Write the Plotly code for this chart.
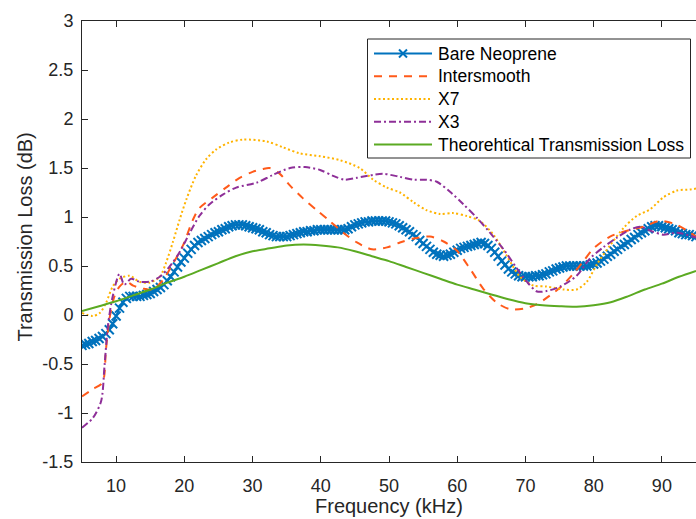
import numpy as np
import plotly.graph_objects as go

# Bare Neoprene: measured transmission loss on a 0.5 kHz grid (5-95 kHz)
bare_freq = np.arange(5.0, 95.01, 0.5)
bare_tl = [
    -0.31, -0.30, -0.29, -0.27, -0.26, -0.24, -0.22, -0.19, -0.15, -0.09,
    -0.01, 0.07, 0.13, 0.17, 0.19, 0.19, 0.19, 0.19, 0.20, 0.21,
    0.22, 0.24, 0.26, 0.28, 0.31, 0.35, 0.39, 0.44, 0.49, 0.54,
    0.58, 0.63, 0.67, 0.71, 0.74, 0.76, 0.78, 0.80, 0.82, 0.84,
    0.85, 0.87, 0.88, 0.90, 0.91, 0.92, 0.92, 0.92, 0.91, 0.90,
    0.89, 0.88, 0.87, 0.85, 0.84, 0.82, 0.81, 0.80, 0.80, 0.80,
    0.80, 0.81, 0.82, 0.83, 0.84, 0.85, 0.85, 0.86, 0.86, 0.87,
    0.87, 0.87, 0.87, 0.87, 0.87, 0.87, 0.87, 0.87, 0.88, 0.90,
    0.92, 0.93, 0.94, 0.95, 0.95, 0.96, 0.96, 0.96, 0.96, 0.96,
    0.95, 0.94, 0.93, 0.91, 0.89, 0.87, 0.85, 0.82, 0.80, 0.76,
    0.73, 0.70, 0.67, 0.64, 0.62, 0.61, 0.60, 0.61, 0.62, 0.64,
    0.66, 0.68, 0.69, 0.70, 0.71, 0.72, 0.73, 0.74, 0.73, 0.71,
    0.68, 0.64, 0.60, 0.55, 0.51, 0.47, 0.44, 0.42, 0.40, 0.39,
    0.39, 0.39, 0.39, 0.40, 0.40, 0.41, 0.42, 0.44, 0.45, 0.47,
    0.48, 0.49, 0.50, 0.50, 0.50, 0.50, 0.50, 0.50, 0.50, 0.51,
    0.52, 0.53, 0.55, 0.57, 0.60, 0.62, 0.65, 0.67, 0.70, 0.72,
    0.74, 0.77, 0.79, 0.82, 0.84, 0.86, 0.88, 0.90, 0.91, 0.91,
    0.90, 0.89, 0.88, 0.87, 0.86, 0.84, 0.83, 0.82, 0.82, 0.81,
    0.80,
]

# Intersmooth coating
inter_freq = [5, 6.5, 8.0, 8.5, 9.0, 9.75, 10.5, 11.5, 12.5, 13.9, 15.4, 16.9,
              18.3, 19.8, 21.25, 22.2, 24.2, 26.1, 28.1, 30, 31.5, 32.5, 34,
              35.5, 37.4, 39.4, 41.3, 43.3, 45.3, 47.5, 49.7, 51.6, 53.6, 56,
              58, 59.9, 61.9, 63.8, 65.8, 67.7, 69.7, 71.7, 73.6, 75.1, 77,
              78.5, 80, 82.4, 84.9, 87.3, 89.7, 92.2, 95]
inter_tl = [-0.83, -0.76, -0.69, -0.36, -0.05, 0.19, 0.29, 0.34, 0.30, 0.27,
            0.26, 0.36, 0.52, 0.71, 0.97, 1.09, 1.20, 1.30, 1.40, 1.46, 1.49,
            1.50, 1.44, 1.32, 1.19, 1.07, 0.96, 0.84, 0.74, 0.67, 0.69, 0.74,
            0.78, 0.80, 0.75, 0.66, 0.47, 0.27, 0.125, 0.06, 0.065, 0.11,
            0.20, 0.28, 0.42, 0.55, 0.68, 0.80, 0.86, 0.90, 0.96, 0.92, 0.80]

# X7 coating
x7_freq = [5, 6.6, 7.6, 8.5, 9.5, 10.5, 12.0, 13.4, 14.9, 16.4, 17.3, 18.3,
           19.3, 20.3, 21.7, 23.2, 24.7, 26.6, 28.6, 32.1, 34.5, 36.9, 39.9,
           42.8, 45.7, 47.7, 49.7, 51.6, 53.6, 55.5, 57.5, 59.4, 61.4, 63.3,
           65.3, 67.3, 69.2, 71.2, 73.1, 75.6, 77.5, 79.0, 80.5, 82.4, 84.4,
           86.3, 88.3, 90.2, 92.2, 94.1, 95]
x7_tl = [0.02, -0.01, 0.02, 0.12, 0.29, 0.37, 0.40, 0.34, 0.33, 0.39, 0.53,
         0.74, 0.97, 1.18, 1.42, 1.59, 1.69, 1.76, 1.79, 1.77, 1.71, 1.65,
         1.62, 1.58, 1.50, 1.38, 1.30, 1.25, 1.15, 1.07, 1.03, 1.04, 1.01,
         0.96, 0.82, 0.60, 0.39, 0.30, 0.29, 0.26, 0.26, 0.34, 0.52, 0.71,
         0.89, 1.01, 1.08, 1.20, 1.27, 1.28, 1.29]

# X3 coating
x3_freq = [5, 6.6, 7.8, 8.3, 8.8, 9.5, 10.5, 11.2, 12.2, 13.4, 14.9, 16.4,
           17.8, 19.3, 20.8, 22.2, 23.7, 25.7, 27.6, 30.6, 33.0, 35.5, 37.7,
           39.9, 41.8, 43.5, 45.3, 47.7, 49.2, 51.6, 53.6, 55.5, 57.0, 58.9,
           60.9, 62.9, 64.8, 66.8, 68.7, 70.2, 71.7, 73.1, 75.1, 77.5, 79.5,
           81.4, 83.4, 85.3, 86.8, 88.7, 90.2, 92.2, 95]
x3_tl = [-1.15, -1.05, -0.88, -0.52, -0.11, 0.19, 0.42, 0.31, 0.37, 0.34,
         0.34, 0.39, 0.49, 0.64, 0.84, 1.01, 1.13, 1.23, 1.30, 1.35, 1.43,
         1.50, 1.51, 1.48, 1.42, 1.38, 1.40, 1.43, 1.44, 1.41, 1.38, 1.38,
         1.36, 1.26, 1.13, 0.99, 0.84, 0.67, 0.48, 0.34, 0.24, 0.245, 0.29,
         0.40, 0.58, 0.69, 0.79, 0.87, 0.90, 0.85, 0.82, 0.84, 0.79]

# Theoretical transmission loss
theory_freq = [5, 7.5, 10, 12.5, 15, 17.5, 20, 22.5, 25, 27.5, 30, 32.5, 35,
               37.5, 40, 42.5, 45, 47.5, 50, 52.5, 55, 57.5, 60, 62.5, 65,
               67.5, 70, 72.5, 75, 77.5, 80, 82.5, 85, 87.5, 90, 92.5, 95]
theory_tl = [0.04, 0.09, 0.14, 0.20, 0.26, 0.33, 0.39, 0.46, 0.53, 0.60, 0.65,
             0.68, 0.71, 0.72, 0.71, 0.69, 0.65, 0.60, 0.55, 0.49, 0.43, 0.37,
             0.31, 0.26, 0.21, 0.16, 0.12, 0.10, 0.09, 0.085, 0.10, 0.13,
             0.19, 0.26, 0.32, 0.39, 0.45]

series_names = ["Bare Neoprene", "Intersmooth", "X7", "X3",
                "Theorehtical Transmission Loss"]

x_ticks = [10, 20, 30, 40, 50, 60, 70, 80, 90]
x_tick_text = ["10", "20", "30", "40", "50", "60", "70", "80", "90"]
y_ticks = [-1.5, -1, -0.5, 0, 0.5, 1, 1.5, 2, 2.5, 3]
y_tick_text = ["-1.5", "-1", "-0.5", "0", "0.5", "1", "1.5", "2", "2.5", "3"]

AX = "#262626"
FONT = "Liberation Sans, Arial, sans-serif"
W, H = 696, 519
M_L, M_R, M_T, M_B = 82, 0, 21, 57
PLOT_W = W - M_L - M_R
PLOT_H = H - M_T - M_B

styles = [
    dict(color="#0072BD", dash="solid"),
    dict(color="#FF5A1A", dash="8px,7px"),
    dict(color="#FFB300", dash="2px,2.5px"),
    dict(color="#8E2F98", dash="7px,3px,2px,3px"),
    dict(color="#5BAA22", dash="solid"),
]

fig = go.Figure()
fig.add_trace(go.Scatter(
    x=bare_freq, y=bare_tl, name=series_names[0], mode="lines+markers",
    line=dict(color=styles[0]["color"], width=2),
    marker=dict(symbol="x-thin", size=9, color=styles[0]["color"],
                line=dict(width=2, color=styles[0]["color"])),
))
for name, st, fx, fy in zip(series_names[1:], styles[1:],
                            [inter_freq, x7_freq, x3_freq, theory_freq],
                            [inter_tl, x7_tl, x3_tl, theory_tl]):
    fig.add_trace(go.Scatter(
        x=fx, y=fy, name=name, mode="lines",
        line=dict(color=st["color"], width=2, dash=st["dash"],
                  shape="spline", smoothing=0.8),
    ))


# legend box drawn in paper space (pixel offsets from the figure's top-left)
def paper_x(px):
    return (px - M_L) / PLOT_W


def paper_y(py):
    return (H - M_B - py) / PLOT_H


shapes = [dict(type="rect", xref="paper", yref="paper",
               x0=paper_x(367.5), x1=paper_x(690.5),
               y0=paper_y(158), y1=paper_y(39),
               line=dict(color=AX, width=1), fillcolor="white", layer="above")]
annotations = []
row0, row_step = 53.5, 22.75
for i, (name, st) in enumerate(zip(series_names, styles)):
    ry = row0 + i * row_step
    shapes.append(dict(type="line", xref="paper", yref="paper",
                       x0=paper_x(374), x1=paper_x(432),
                       y0=paper_y(ry), y1=paper_y(ry),
                       line=dict(color=st["color"], width=2, dash=st["dash"])))
    if i == 0:
        for d in (-1, 1):
            shapes.append(dict(type="line", xref="paper", yref="paper",
                               x0=paper_x(399), x1=paper_x(407),
                               y0=paper_y(ry - 4 * d), y1=paper_y(ry + 4 * d),
                               line=dict(color=st["color"], width=2)))
    annotations.append(dict(text=name, xref="paper", yref="paper",
                            x=paper_x(436), y=paper_y(ry),
                            xanchor="left", yanchor="middle", showarrow=False,
                            font=dict(size=17.5, color="black", family=FONT)))

annotations += [
    dict(text="Frequency (kHz)", xref="paper", yref="paper",
         x=0.5, y=-0.0995, xanchor="center", yanchor="middle",
         showarrow=False, font=dict(size=20, color=AX, family=FONT)),
    dict(text="Transmission Loss (dB)", xref="paper", yref="paper",
         x=-0.093, y=0.511, xanchor="center", yanchor="middle",
         textangle=-90, showarrow=False,
         font=dict(size=20, color=AX, family=FONT)),
]

fig.update_layout(
    width=W, height=H,
    margin=dict(l=M_L, r=M_R, t=M_T, b=M_B),
    paper_bgcolor="white", plot_bgcolor="white",
    font=dict(family=FONT, color=AX, size=18),
    showlegend=False,
    xaxis=dict(
        range=[5, 95], tickvals=x_ticks, ticktext=x_tick_text,
        ticks="inside", ticklen=6, tickcolor=AX, tickwidth=1,
        showline=True, linecolor=AX, linewidth=1, mirror="ticks",
        showgrid=False, zeroline=False, ticklabelstandoff=7,
        tickfont=dict(size=18, color=AX, family=FONT),
    ),
    yaxis=dict(
        range=[-1.5, 3], tickvals=y_ticks, ticktext=y_tick_text,
        ticks="inside", ticklen=6, tickcolor=AX, tickwidth=1,
        showline=True, linecolor=AX, linewidth=1, mirror=False,
        showgrid=False, zeroline=False, ticklabelstandoff=4,
        tickfont=dict(size=18, color=AX, family=FONT),
    ),
    shapes=shapes,
    annotations=annotations,
)

fig.write_html("out.html")
